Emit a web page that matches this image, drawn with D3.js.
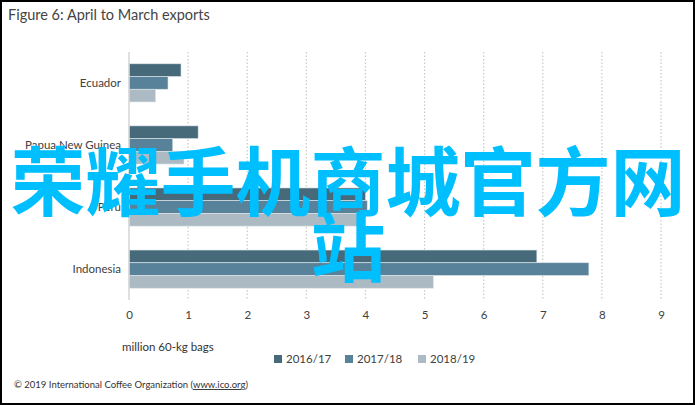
<!DOCTYPE html>
<html><head><meta charset="utf-8">
<script src="https://cdn.jsdelivr.net/npm/d3@7"></script>
<style>body{margin:0;background:#fff;}svg{display:block;}</style>
</head><body>
<script>
const categories = ["Ecuador", "Papua New Guinea", "Peru", "Indonesia"];
const seriesNames = ["2016/17", "2017/18", "2018/19"];
const s2016 = [0.88, 1.17, 4.0, 6.9];
const s2017 = [0.66, 0.74, 4.03, 7.78];
const s2018 = [0.45, 0.93, 3.93, 5.15];
const xTicks = [0, 1, 2, 3, 4, 5, 6, 7, 8, 9];
const colors = ["#476a7b", "#58829a", "#abbac3"];
const series = [s2016, s2017, s2018];

const W = 695, H = 405;
const svg = d3.select("body").append("svg").attr("width", W).attr("height", H);
svg.append("rect").attr("width", W).attr("height", H).attr("fill", "#fff");
svg.append("rect").attr("x", 1).attr("y", 1).attr("width", W - 2).attr("height", H - 2)
  .attr("fill", "none").attr("stroke", "#000").attr("stroke-width", 2);

const font = "Lato, 'Open Sans', sans-serif";
svg.append("text").attr("x", 8).attr("y", 20).text("Figure 6: April to March exports")
  .attr("font-family", font).attr("font-size", 14.5).attr("fill", "#444");

const x = d3.scaleLinear().domain([0, 9]).range([129, 661]);
const y = d3.scaleBand().domain(categories).range([52, 300]).paddingInner(0.385).paddingOuter(0.19);
const y1 = d3.scaleBand().domain(seriesNames).range([0, y.bandwidth()]);

// gridlines
svg.append("g").selectAll("line").data(xTicks.slice(1)).join("line")
  .attr("x1", d => x(d)).attr("x2", d => x(d)).attr("y1", 52).attr("y2", 300)
  .attr("stroke", "#c8c8c8").attr("stroke-width", 1.2).attr("stroke-dasharray", "1.5,2");

// bars
const g = svg.append("g");
categories.forEach((c, i) => {
  series.forEach((s, j) => {
    g.append("rect").attr("x", x(0)).attr("y", y(c) + y1(seriesNames[j]))
      .attr("width", x(s[i]) - x(0)).attr("height", y1.bandwidth())
      .attr("fill", colors[j]).attr("stroke", "#dfe6ea").attr("stroke-width", 0.6);
  });
});

// baseline axis
svg.append("line").attr("x1", x(0)).attr("x2", x(0)).attr("y1", 52).attr("y2", 300)
  .attr("stroke", "#d4d4d4").attr("stroke-width", 1.5);

// x axis tick labels
const xAxis = d3.axisBottom(x).tickValues(xTicks).tickSize(0).tickPadding(0).tickFormat(d3.format("d"));
const xg = svg.append("g").attr("transform", "translate(0,311)").call(xAxis);
xg.select(".domain").remove();
xg.selectAll("text").attr("font-family", font).attr("font-size", 11.5).attr("fill", "#404040");

// y axis labels
const yAxis = d3.axisLeft(y).tickSize(0).tickPadding(0);
const yg = svg.append("g").attr("transform", "translate(121,0)").call(yAxis);
yg.select(".domain").remove();
yg.selectAll("text").attr("font-family", font).attr("font-size", 11.5).attr("fill", "#404040");

svg.append("text").attr("x", 122).attr("y", 351).text("million 60-kg bags")
  .attr("font-family", font).attr("font-size", 11.5).attr("fill", "#333");

// legend
const legX = [274, 345, 418];
seriesNames.forEach((n, j) => {
  svg.append("rect").attr("x", legX[j]).attr("y", 355).attr("width", 8).attr("height", 8).attr("fill", colors[j]);
  svg.append("text").attr("x", legX[j] + 12).attr("y", 363).text(n)
    .attr("font-family", font).attr("font-size", 11.5).attr("fill", "#404040");
});

// footer
const ft = svg.append("text").attr("x", 14).attr("y", 388)
  .attr("font-family", font).attr("font-size", 9.5).attr("fill", "#333");
ft.append("tspan").text("© 2019 International Coffee Organization (");
ft.append("tspan").text("www.ico.org").attr("text-decoration", "underline");
ft.append("tspan").text(")");

// watermark
const wm = svg.append("g").attr("font-family", "'Noto Sans CJK SC', sans-serif")
  .attr("font-size", 75).attr("fill", "#00bfff").attr("text-anchor", "middle").attr("font-weight", 700);
wm.append("text").attr("x", 348).attr("y", 210).text("荣耀手机商城官方网");
wm.append("text").attr("x", 348).attr("y", 276).text("站");
</script>
</body></html>
